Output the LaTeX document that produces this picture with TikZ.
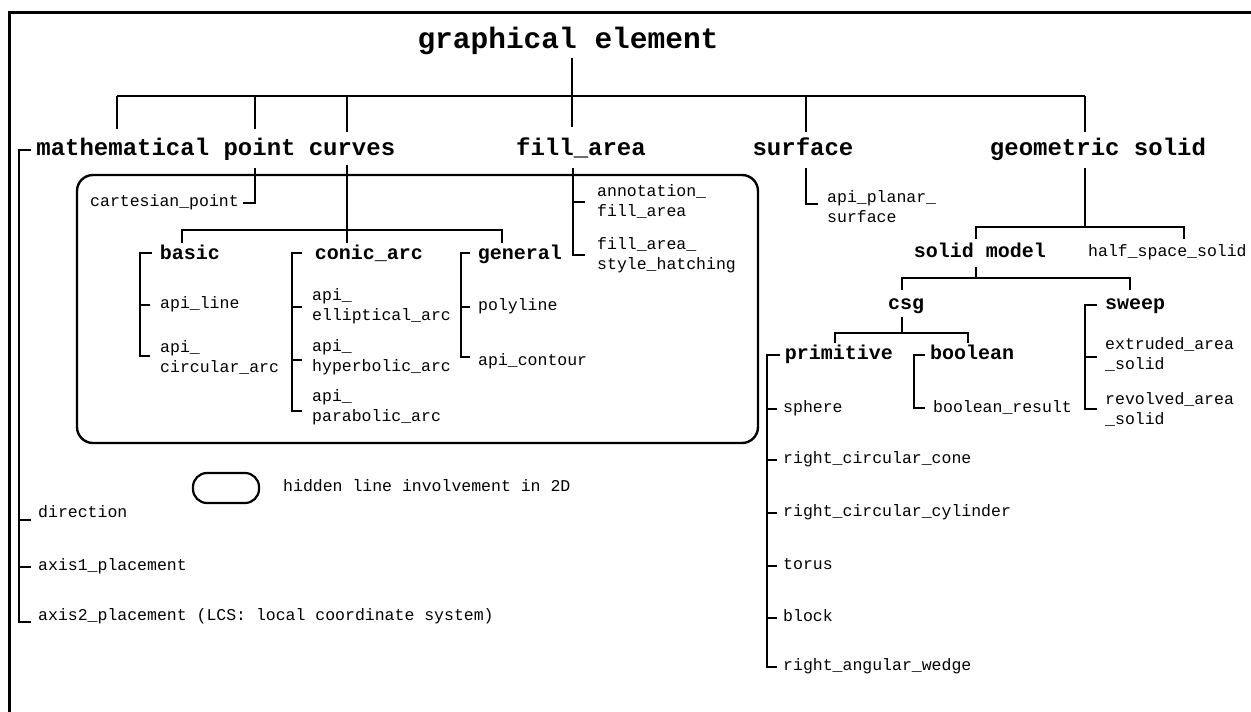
\documentclass[tikz,border=0pt]{standalone}
\usepackage{fontspec}
\newfontfamily\monof{Liberation Mono}
\newcommand\ftitle{\monof\bfseries\fontsize{29.5}{32}\selectfont}
\newcommand\fhead{\monof\bfseries\fontsize{24}{26}\selectfont}
\newcommand\fsub{\monof\bfseries\fontsize{20}{22}\selectfont}
\newcommand\fsmall{\monof\fontsize{16.5}{20}\selectfont}
\tikzset{
  titlenode/.style={font=\ftitle, inner sep=0pt, text height=19pt, text depth=6pt},
  headnode/.style={font=\fhead, inner sep=0pt, text height=15pt, text depth=5pt},
  subnode/.style={font=\fsub, inner sep=0pt, text height=13pt, text depth=4pt},
  smallnode/.style={font=\fsmall, inner sep=0pt, anchor=west, align=left, text depth=4pt},
  link/.style={line width=2.6pt, line cap=butt, line join=miter},
  framestyle/.style={line width=3pt},
  boxstyle/.style={line width=2.4pt, rounded corners=16pt},
}
\begin{document}
\begin{tikzpicture}[x=1pt,y=-1pt]
\useasboundingbox (0,0) rectangle (1251,712);
% frame
\draw[framestyle] (1252,12) -- (9,12) -- (9,713);

% title and top level
\node[titlenode] (ge) at (568,42) {graphical element};
\coordinate (geb) at (572,58);
\coordinate (bus1L) at (117,96);
\coordinate (bus1R) at (1085,96);
\draw[link] (geb) -- (572,127);
\draw[link] (bus1L) -- (bus1R);

\node[headnode] (mp) at (166,150) {mathematical point};
\node[headnode] (cu) at (352,150) {curves};
\node[headnode] (fa) at (581,150) {fill\_area};
\node[headnode] (su) at (803,150) {surface};
\node[headnode] (gs) at (1098,150) {geometric solid};

\draw[link] (bus1L) -- (117,129);
\draw[link] (255,96) -- (255,129);
\draw[link] (347,96) -- (347,132);
\draw[link] (806,96) -- (806,132);
\draw[link] (bus1R) -- (1085,132);

% mathematical bracket
\node[smallnode] (dir) at (38,514) {direction};
\node[smallnode] (ax1) at (38,567) {axis1\_placement};
\node[smallnode] (ax2) at (38,617) {axis2\_placement (LCS: local coordinate system)};
\draw[link] (31,150) -- (19,150) -- (19,622) -- (31,622);
\draw[link] (19,520) -- (31,520);
\draw[link] (19,567) -- (31,567);

% rounded box (hidden line involvement in 2D)
\draw[boxstyle] (77,175) rectangle (758,443);

% point
\node[smallnode] (cp) at (90,203) {cartesian\_point};
\draw[link] (255,168) -- (255,203) -- (243,203);

% curves
\draw[link] (347,165) -- (347,243);
\draw[link] (182,243) -- (182,230) -- (502,230) -- (502,243);

\node[subnode] (basic) at (190,255) {basic};
\node[subnode] (conic) at (369,255) {conic\_arc};
\node[subnode] (general) at (520,255) {general};

% basic
\node[smallnode] (apiline) at (160,305) {api\_line};
\node[smallnode] (apicirc) at (160,359) {api\_\\circular\_arc};
\draw[link] (152,253) -- (140,253) -- (140,356) -- (150,356);
\draw[link] (140,305) -- (150,305);

% conic arc
\node[smallnode] (ell) at (312,307) {api\_\\elliptical\_arc};
\node[smallnode] (hyp) at (312,358) {api\_\\hyperbolic\_arc};
\node[smallnode] (par) at (312,408) {api\_\\parabolic\_arc};
\draw[link] (302,253) -- (292,253) -- (292,411) -- (302,411);
\draw[link] (292,307) -- (302,307);
\draw[link] (292,360) -- (302,360);

% general
\node[smallnode] (poly) at (478,307) {polyline};
\node[smallnode] (cont) at (478,362) {api\_contour};
\draw[link] (470,253) -- (461,253) -- (461,357) -- (470,357);
\draw[link] (461,307) -- (470,307);

% fill area
\node[smallnode] (afa) at (597,203) {annotation\_\\fill\_area};
\node[smallnode] (fash) at (597,256) {fill\_area\_\\style\_hatching};
\draw[link] (573,168) -- (573,255) -- (585,255);
\draw[link] (573,202) -- (585,202);

% surface
\node[smallnode] (aps) at (827,209) {api\_planar\_\\surface};
\draw[link] (806,168) -- (806,204) -- (818,204);

% geometric solid
\draw[link] (1085,168) -- (1085,227);
\draw[link] (976,239) -- (976,227) -- (1184,227) -- (1184,239);
\node[subnode] (sm) at (980,253) {solid model};
\node[smallnode] (hss) at (1088,253) {half\_space\_solid};

\draw[link] (976,267) -- (976,278);
\draw[link] (902,290) -- (902,278) -- (1130,278) -- (1130,290);
\node[subnode] (csg) at (906,305) {csg};
\node[subnode,anchor=west] (sweep) at (1105,305) {sweep};

\draw[link] (902,317) -- (902,333);
\draw[link] (835,343) -- (835,333) -- (968,333) -- (968,343);
\node[subnode] (prim) at (839,355) {primitive};
\node[subnode] (bool) at (972,355) {boolean};

% primitive
\node[smallnode] (sph) at (783,409) {sphere};
\node[smallnode] (rcc) at (783,460) {right\_circular\_cone};
\node[smallnode] (rcy) at (783,513) {right\_circular\_cylinder};
\node[smallnode] (tor) at (783,566) {torus};
\node[smallnode] (blk) at (783,618) {block};
\node[smallnode] (raw) at (783,667) {right\_angular\_wedge};
\draw[link] (780,355) -- (767,355) -- (767,667) -- (777,667);
\foreach \yy in {409,460,513,566,618} \draw[link] (767,\yy) -- (777,\yy);

% boolean
\node[smallnode] (bres) at (933,409) {boolean\_result};
\draw[link] (925,355) -- (914,355) -- (914,408) -- (925,408);

% sweep
\node[smallnode] (ext) at (1105,356) {extruded\_area\\\_solid};
\node[smallnode] (rev) at (1105,411) {revolved\_area\\\_solid};
\draw[link] (1097,305) -- (1085,305) -- (1085,409) -- (1097,409);
\draw[link] (1085,357) -- (1097,357);

% legend
\node[draw, line width=2.2pt, rounded corners=14pt, minimum width=66pt, minimum height=30pt, inner sep=0pt] (legend) at (226,488) {};
\node[smallnode] (legtext) at (283,488) {hidden line involvement in 2D};
\end{tikzpicture}
\end{document}
